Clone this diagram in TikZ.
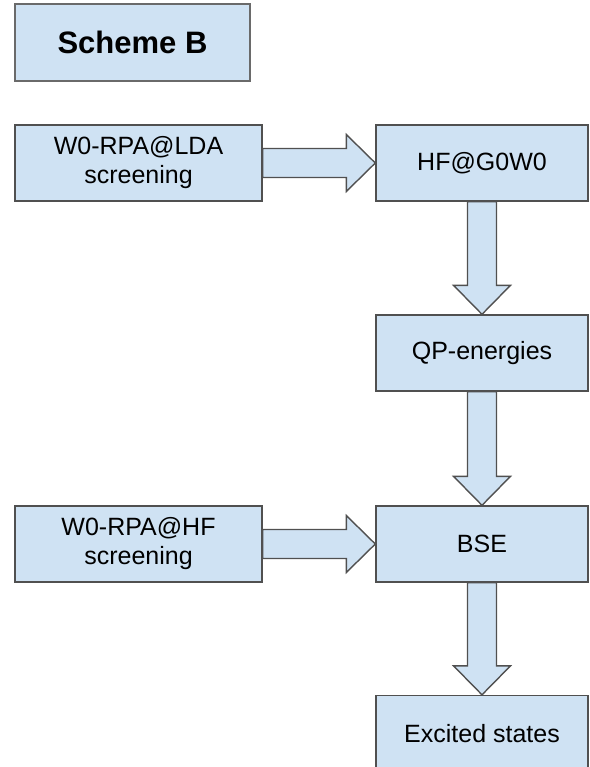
\documentclass[tikz,border=0pt]{standalone}
\usepackage{fontspec}
\setmainfont{Liberation Sans}
\usepackage{tikz}
\usetikzlibrary{calc}
\definecolor{boxblue}{HTML}{CFE2F3}
\definecolor{linegray}{HTML}{505050}

% block arrow between two named anchors
\newcommand{\blockarrow}[2]{%
    \draw [flowarrow] let \p1=(#1), \p2=(#2),
        \n1={atan2(\y2-\y1,\x2-\x1)}, \n2={veclen(\x2-\x1,\y2-\y1)} in
        [shift={(\p1)}, rotate=\n1]
        (0, -14.5) -- ({\n2-29}, -14.5) -- ({\n2-29}, -28.5) -- (\n2, 0)
        -- ({\n2-29}, 28.5) -- ({\n2-29}, 14.5) -- (0, 14.5) -- cycle;
}

\begin{document}
\begin{tikzpicture}[x=1pt, y=1pt]

    \tikzset{%
        flowbox/.style={draw=linegray, fill=boxblue, line width=1.4pt,
                minimum width=212pt, minimum height=76pt, inner sep=0pt,
                align=center, font=\fontsize{25}{29}\selectfont},
        sidebox/.style={flowbox, minimum width=247pt},
        titlebox/.style={flowbox, draw=linegray!85, minimum width=235pt, minimum height=77pt,
                font=\fontsize{31}{37}\selectfont\bfseries},
        flowarrow/.style={draw=linegray, fill=boxblue, line width=1.4pt, line join=miter},
    }

    \clip (0, 0) rectangle (589, -767);

    \node [titlebox] (title) at (132.5, -42.5) {Scheme B};

    \node [sidebox] (ldascreen) at (138.5, -163) {W0-RPA@LDA\\screening};
    \node [flowbox] (hfgw) at (482, -163) {HF@G0W0};
    \node [flowbox] (qpen) at (482, -353) {QP-energies};
    \node [sidebox] (hfscreen) at (138.5, -544) {W0-RPA@HF\\screening};
    \node [flowbox] (bse) at (482, -544) {BSE};
    \node [flowbox] (excited) at (482, -733.5) {Excited states};

    \blockarrow{ldascreen.east}{hfgw.west}
    \blockarrow{hfgw.south}{qpen.north}
    \blockarrow{qpen.south}{bse.north}
    \blockarrow{hfscreen.east}{bse.west}
    \blockarrow{bse.south}{excited.north}

\end{tikzpicture}
\end{document}
